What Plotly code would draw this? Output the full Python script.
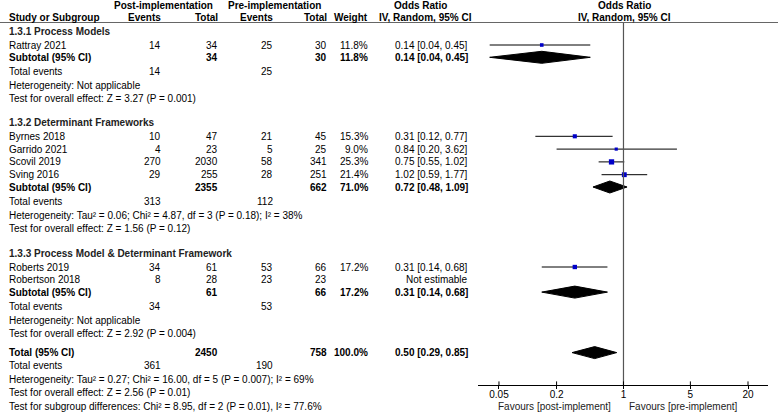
import plotly.graph_objects as go

# ---------------- data ----------------
group_names = ["1.3.1 Process Models",
               "1.3.2 Determinant Frameworks",
               "1.3.3 Process Model & Determinant Framework"]

study_names = ["Rattray 2021", "Byrnes 2018", "Garrido 2021", "Scovil 2019",
               "Sving 2016", "Roberts 2019", "Robertson 2018"]
study_group = [0, 1, 1, 1, 1, 2, 2]
post_events = [14, 10, 4, 270, 29, 34, 8]
post_total = [34, 47, 23, 2030, 255, 61, 28]
pre_events = [25, 21, 5, 58, 28, 53, 23]
pre_total = [30, 45, 25, 341, 251, 66, 23]
study_weight = [11.8, 15.3, 9.0, 25.3, 21.4, 17.2, None]
study_or = [0.14, 0.31, 0.84, 0.75, 1.02, 0.31, None]
study_lo = [0.04, 0.12, 0.20, 0.55, 0.59, 0.14, None]
study_hi = [0.45, 0.77, 3.62, 1.02, 1.77, 0.68, None]

sub_post_total = [34, 2355, 61]
sub_pre_total = [30, 662, 66]
sub_weight = [11.8, 71.0, 17.2]
sub_or = [0.14, 0.72, 0.31]
sub_lo = [0.04, 0.48, 0.14]
sub_hi = [0.45, 1.09, 0.68]
sub_post_events = [14, 313, 34]
sub_pre_events = [25, 112, 53]
sub_het = ["Heterogeneity: Not applicable",
           "Heterogeneity: Tau² = 0.06; Chi² = 4.87, df = 3 (P = 0.18); I² = 38%",
           "Heterogeneity: Not applicable"]
sub_test = ["Test for overall effect: Z = 3.27 (P = 0.001)",
            "Test for overall effect: Z = 1.56 (P = 0.12)",
            "Test for overall effect: Z = 2.92 (P = 0.004)"]

total_post_total = 2450
total_pre_total = 758
total_weight = 100.0
total_or = 0.50
total_lo = 0.29
total_hi = 0.85
total_post_events = 361
total_pre_events = 190
total_het = "Heterogeneity: Tau² = 0.27; Chi² = 16.00, df = 5 (P = 0.007); I² = 69%"
total_test = "Test for overall effect: Z = 2.56 (P = 0.01)"
subgroup_test = "Test for subgroup differences: Chi² = 8.95, df = 2 (P = 0.01), I² = 77.6%"

tick_vals = [0.05, 0.2, 1, 5, 20]
tick_text = ["0.05", "0.2", "1", "5", "20"]
favours_left = "Favours [post-implement]"
favours_right = "Favours [pre-implement]"

# ---------------- layout constants ----------------
W, H = 778, 420
FONT = "Liberation Sans, Arial, sans-serif"
FS = 10
X_NAME = 8
X_POST_EV = 162
X_POST_TOT = 219
X_PRE_EV = 274
X_PRE_TOT = 328
X_WEIGHT = 369
X_OR = 469
SQUARE_BLUE = "#0000C8"

annotations = []


def txt(x, y, s, anchor="left", bold=False, color="#000000"):
    annotations.append(dict(
        x=x / W, y=y, xref="paper", yref="y", text=("<b>%s</b>" % s) if bold else s,
        showarrow=False, xanchor=anchor, yanchor="middle",
        font=dict(family=FONT, size=FS, color=color), borderpad=0))


def fmt_or(e, l, h):
    return "%.2f [%.2f, %.2f]" % (e, l, h)


fig = go.Figure()

# headers
txt(163, 5, "Post-implementation", "center", True)
txt(274, 5, "Pre-implementation", "center", True)
txt(421, 5, "Odds Ratio", "center", True)
txt(624, 5, "Odds Ratio", "center", True)
txt(X_NAME, 17, "Study or Subgroup", "left", True)
txt(X_POST_EV, 17, "Events", "right", True)
txt(X_POST_TOT, 17, "Total", "right", True)
txt(X_PRE_EV, 17, "Events", "right", True)
txt(X_PRE_TOT, 17, "Total", "right", True)
txt(X_WEIGHT, 17, "Weight", "right", True)
txt(X_OR + 4, 17, "IV, Random, 95% CI", "right", True)
txt(624, 17, "IV, Random, 95% CI", "center", True)

DIAM_H = 6


def diamond(est, lo, hi, y):
    fig.add_trace(go.Scatter(
        x=[lo, est, hi, est, lo], y=[y, y - DIAM_H, y, y + DIAM_H, y],
        mode="lines", fill="toself", fillcolor="#000000",
        line=dict(color="#000000", width=1), hoverinfo="skip", showlegend=False))


# row positions
y = 31
for g in range(len(group_names)):
    txt(X_NAME, y, group_names[g], "left", True, "#222222")
    y += 14
    idx = [i for i, sg in enumerate(study_group) if sg == g]
    for k, i in enumerate(idx):
        txt(X_NAME, y, study_names[i])
        txt(X_POST_EV, y, str(post_events[i]), "right")
        txt(X_POST_TOT, y, str(post_total[i]), "right")
        txt(X_PRE_EV, y, str(pre_events[i]), "right")
        txt(X_PRE_TOT, y, str(pre_total[i]), "right")
        if study_weight[i] is not None:
            txt(X_WEIGHT, y, "%.1f%%" % study_weight[i], "right")
            txt(X_OR, y, fmt_or(study_or[i], study_lo[i], study_hi[i]), "right")
            fig.add_trace(go.Scatter(
                x=[study_lo[i], study_hi[i]], y=[y, y], mode="lines",
                line=dict(color="#000000", width=1), hoverinfo="skip", showlegend=False))
            fig.add_trace(go.Scatter(
                x=[study_or[i]], y=[y], mode="markers",
                marker=dict(symbol="square", color=SQUARE_BLUE,
                            size=1.05 * study_weight[i] ** 0.5, line=dict(width=0)),
                hoverinfo="skip", showlegend=False))
        else:
            txt(X_OR, y, "Not estimable", "right")
        y += 12.8 if k < len(idx) - 1 else 12.3
    # subtotal
    txt(X_NAME, y, "Subtotal (95% CI)", "left", True)
    txt(X_POST_TOT, y, str(sub_post_total[g]), "right", True)
    txt(X_PRE_TOT, y, str(sub_pre_total[g]), "right", True)
    txt(X_WEIGHT, y, "%.1f%%" % sub_weight[g], "right", True)
    txt(X_OR, y, fmt_or(sub_or[g], sub_lo[g], sub_hi[g]), "right", True)
    diamond(sub_or[g], sub_lo[g], sub_hi[g], y)
    y += 14.5
    txt(X_NAME, y, "Total events")
    txt(X_POST_EV, y, str(sub_post_events[g]), "right")
    txt(X_PRE_EV, y, str(sub_pre_events[g]), "right")
    y += 13.5
    txt(X_NAME, y, sub_het[g])
    y += 13.5
    txt(X_NAME, y, sub_test[g])
    y += 23.5 if g == 0 else 24.5

# overall
y = y - 24.5 + 19
txt(X_NAME, y, "Total (95% CI)", "left", True)
txt(X_POST_TOT, y, str(total_post_total), "right", True)
txt(X_PRE_TOT, y, str(total_pre_total), "right", True)
txt(X_WEIGHT, y, "%.1f%%" % total_weight, "right", True)
txt(X_OR, y, fmt_or(total_or, total_lo, total_hi), "right", True)
diamond(total_or, total_lo, total_hi, y)
y += 13.3
txt(X_NAME, y, "Total events")
txt(X_POST_EV, y, str(total_post_events), "right")
txt(X_PRE_EV, y, str(total_pre_events), "right")
y += 13.3
txt(X_NAME, y, total_het)
y += 13.5
txt(X_NAME, y, total_test)
y += 13.8
txt(X_NAME, y, subgroup_test)

AXIS_Y = 385
# line of no effect
fig.add_trace(go.Scatter(x=[1, 1], y=[23, AXIS_Y], mode="lines",
                         line=dict(color="#555555", width=1.2),
                         hoverinfo="skip", showlegend=False))
# upper half of the axis ticks (ticks cross the axis line)
fig.add_trace(go.Scatter(x=tick_vals, y=[AXIS_Y - 1.5] * len(tick_vals), mode="markers",
                         marker=dict(symbol="line-ns", size=3,
                                     line=dict(color="#000000", width=1)),
                         hoverinfo="skip", showlegend=False))

# favours labels
txt(612, 406, favours_left, "right", False, "#222222")
txt(628, 406, favours_right, "left", False, "#222222")

shapes = [dict(type="line", xref="paper", yref="y", x0=0, x1=1, y0=22.5, y1=22.5,
               line=dict(color="#666666", width=1))]

fig.update_layout(
    width=W, height=H, margin=dict(l=0, r=0, t=0, b=0, autoexpand=False),
    paper_bgcolor="white", plot_bgcolor="white",
    annotations=annotations, shapes=shapes, showlegend=False,
    xaxis=dict(type="log", range=[-1.52, 1.51], domain=[478 / W, 768 / W],
               anchor="free", position=(H - AXIS_Y) / H,
               showline=True, linecolor="#000000", linewidth=1,
               ticks="outside", ticklen=3, tickcolor="#000000",
               ticklabelstandoff=-3,
               tickvals=tick_vals, ticktext=tick_text,
               tickfont=dict(family=FONT, size=FS, color="#000000"),
               showgrid=False, zeroline=False, fixedrange=True),
    yaxis=dict(range=[H, 0], domain=[0, 1], visible=False, showgrid=False,
               zeroline=False, fixedrange=True),
)

fig.write_html("out.html", config={"displayModeBar": False},
               post_script="document.body.style.margin='0';document.body.style.overflow='hidden';")
